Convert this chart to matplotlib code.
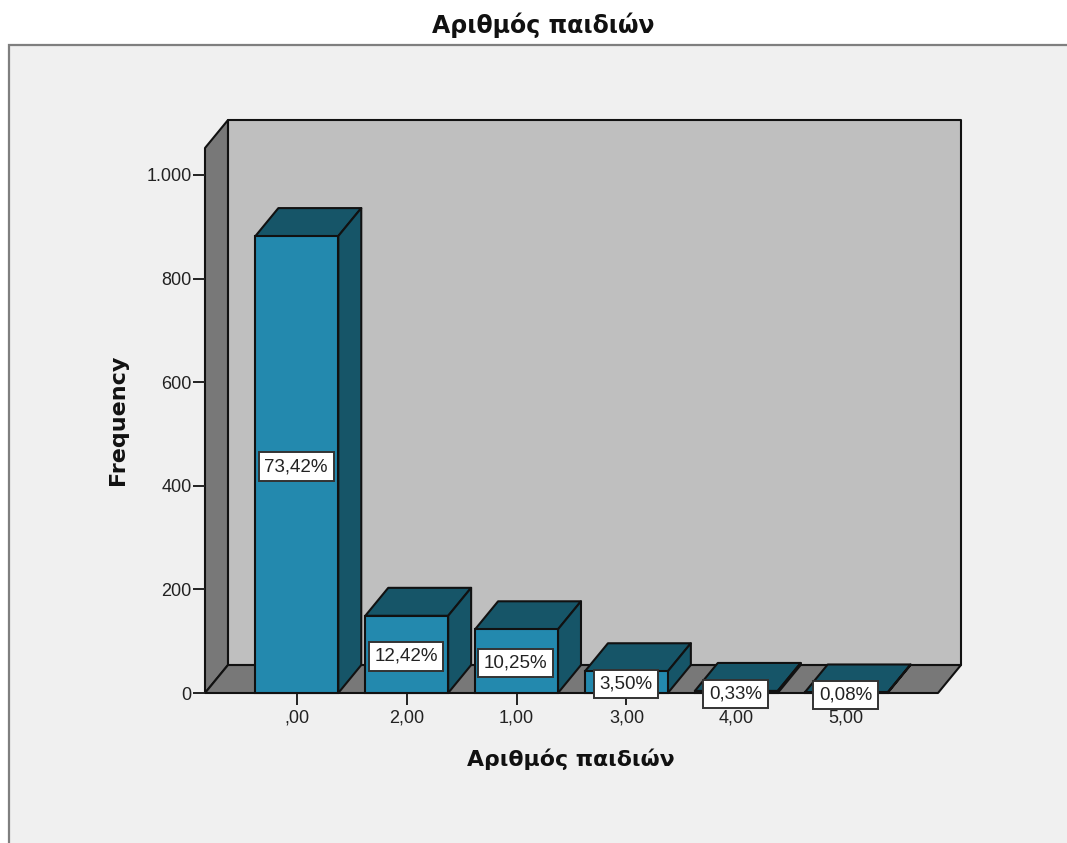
import matplotlib
matplotlib.use('Agg')
import matplotlib.pyplot as plt
from matplotlib.patches import Polygon, Rectangle

categories = [',00', '2,00', '1,00', '3,00', '4,00', '5,00']
frequencies = [882, 149, 123, 42, 4, 1]
percent_labels = ['73,42%', '12,42%', '10,25%', '3,50%', '0,33%', '0,08%']
y_ticks = [0, 200, 400, 600, 800, 1000]
y_tick_labels = ['0', '200', '400', '600', '800', '1.000']

W, H = 1067, 843
BAR_W = 83 / 110
XLIM = (-0.836, 5.836)
YLIM = (0, 1052)
# offset of the back plane, in data units
DX = 23 / 110
DY = 54

FRONT = '#2389ae'
DARK = '#165568'
WALL = '#787878'
BACK = '#bfbfbf'
EDGE = '#111111'
LW = 1.5

plt.rcParams['font.family'] = ['Liberation Sans', 'DejaVu Sans']

fig = plt.figure(figsize=(W / 100, H / 100), dpi=100, facecolor='white')

# light panel behind the chart, running off the right and bottom edges
fig.add_artist(Rectangle((9 / W, -0.05), 1.1, 1.05 - 45 / H, transform=fig.transFigure,
                         facecolor='#f0f0f0', edgecolor='#7f7f7f', linewidth=1.6, zorder=-1))

ax = fig.add_axes([205 / W, (H - 693) / H, 733 / W, 545 / H])
ax.set_xlim(XLIM)
ax.set_ylim(YLIM)
ax.patch.set_visible(False)
for s in ax.spines.values():
    s.set_visible(False)


def poly(points, color, z):
    ax.add_patch(Polygon(points, closed=True, facecolor=color, edgecolor=EDGE,
                         linewidth=LW, joinstyle='round', clip_on=False, zorder=z))


x0, x1 = XLIM
y1 = YLIM[1]
# walls and floor
poly([(x0 + DX, DY), (x1 + DX, DY), (x1 + DX, y1 + DY), (x0 + DX, y1 + DY)], BACK, 1)
poly([(x0, 0), (x0 + DX, DY), (x0 + DX, y1 + DY), (x0, y1)], WALL, 1.1)
poly([(x0, 0), (x1, 0), (x1 + DX, DY), (x0 + DX, DY)], WALL, 1.2)

# 3d bars: front face from ax.bar, top and side faces offset by the depth
positions = list(range(len(categories)))
ax.bar(positions, frequencies, width=BAR_W, color=FRONT, edgecolor=EDGE, linewidth=LW,
       zorder=3, clip_on=False)
for x, v in zip(positions, frequencies):
    l, r = x - BAR_W / 2, x + BAR_W / 2
    poly([(l, v), (r, v), (r + DX, v + DY), (l + DX, v + DY)], DARK, 2.5)
    poly([(r, 0), (r + DX, DY), (r + DX, v + DY), (r, v)], DARK, 2.5)

for x, v, t in zip(positions, frequencies, percent_labels):
    ax.annotate(t, (x, v / 2), xytext=(-0.5, -1.5), textcoords='offset points',
                ha='center', va='center', fontsize=13.5, color='#222222', zorder=6,
                bbox=dict(boxstyle='square,pad=0.3', facecolor='white', edgecolor='#333333',
                          linewidth=1.4))

ax.set_xticks(positions)
ax.set_xticklabels(categories)
ax.set_yticks(y_ticks)
ax.set_yticklabels(y_tick_labels)
ax.tick_params(axis='both', length=8.6, width=1.4, color='#222222', labelcolor='#222222',
               labelsize=13)
ax.tick_params(axis='x', pad=3.6)
ax.tick_params(axis='y', pad=1)

fig.text(543 / W, 1 - 25 / H, 'Αριθμός παιδιών', ha='center', va='center',
         fontsize=17, family='DejaVu Sans', fontweight='bold', color='#111111')
fig.text(571 / W, 1 - 759 / H, 'Αριθμός παιδιών', ha='center', va='center',
         fontsize=15.8, family='DejaVu Sans', fontweight='bold', color='#111111')
fig.text(118 / W, 1 - 420 / H, 'Frequency', ha='center', va='center', rotation=90,
         fontsize=16, family='DejaVu Sans', fontweight='bold', color='#111111')

fig.savefig('out.png', dpi=100)
